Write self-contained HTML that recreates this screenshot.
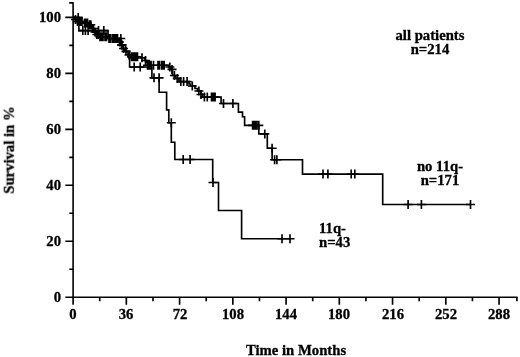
<!DOCTYPE html><html><head><meta charset="utf-8"><style>
html,body{margin:0;padding:0;background:#fff;}
body{width:520px;height:357px;position:relative;overflow:hidden;font-family:"Liberation Serif",serif;font-weight:bold;color:#000;font-size:14.7px;line-height:14.4px;-webkit-text-stroke:0.3px #000;}
.t{position:absolute;white-space:nowrap;}
.yl{text-align:right;width:40px;left:21.3px;}
.xl{text-align:center;width:40px;}
.c{text-align:center;}
.t{will-change:transform;}
</style></head><body>
<svg width="520" height="357" viewBox="0 0 520 357" style="position:absolute;left:0;top:0">
<path d="M73.10 2.2 V297.20 H517.6" fill="none" stroke="#000" stroke-width="1.6"/>
<path d="M65.3 297.20 H73.10 M65.3 241.24 H73.10 M65.3 185.28 H73.10 M65.3 129.32 H73.10 M65.3 73.36 H73.10 M65.3 17.40 H73.10 M69.3 269.22 H73.10 M69.3 213.26 H73.10 M69.3 157.30 H73.10 M69.3 101.34 H73.10 M69.3 45.38 H73.10 M69.2 2.9 H73.10 M73.10 297.20 V304.7 M126.34 297.20 V304.7 M179.59 297.20 V304.7 M232.83 297.20 V304.7 M286.08 297.20 V304.7 M339.32 297.20 V304.7 M392.56 297.20 V304.7 M445.81 297.20 V304.7 M499.05 297.20 V304.7 M99.72 297.20 V301.3 M152.97 297.20 V301.3 M206.21 297.20 V301.3 M259.45 297.20 V301.3 M312.70 297.20 V301.3 M365.94 297.20 V301.3 M419.19 297.20 V301.3 M472.43 297.20 V301.3 M516.9 297.20 V301.3 " fill="none" stroke="#000" stroke-width="1.65"/>
<path d="M73.00 17.40 L74.50 17.40 L74.50 19.50 L76.50 19.50 L76.50 21.50 L83.50 21.50 L83.50 23.00 L88.50 23.00 L88.50 24.70 L91.50 24.70 L91.50 28.50 L94.00 28.50 L94.00 32.00 L96.00 32.00 L96.00 34.50 L99.00 34.50 L99.00 36.80 L108.00 36.80 L108.00 38.50 L119.00 38.50 L119.00 42.00 L120.50 42.00 L120.50 45.00 L122.50 45.00 L122.50 48.50 L124.50 48.50 L124.50 51.30 L128.00 51.30 L128.00 55.00 L130.00 55.00 L130.00 57.70 L144.60 57.70 L144.60 60.50 L146.50 60.50 L146.50 62.50 L148.50 62.50 L148.50 65.20 L169.00 65.20 L169.00 67.40 L171.00 67.40 L171.00 69.40 L172.50 69.40 L172.50 75.50 L175.50 75.50 L175.50 78.40 L179.00 78.40 L179.00 81.60 L189.00 81.60 L189.00 84.00 L190.50 84.00 L190.50 86.00 L195.00 86.00 L195.00 88.50 L197.50 88.50 L197.50 91.00 L201.00 91.00 L201.00 94.00 L202.50 94.00 L202.50 97.10 L221.10 97.10 L221.10 103.50 L238.40 103.50 L238.40 112.10 L242.50 112.10 L242.50 116.70 L244.60 116.70 L244.60 125.30 L258.80 125.30 L258.80 133.90 L267.30 133.90 L267.30 148.20 L272.10 148.20 L272.10 159.70 L302.50 159.70 L302.50 174.10 L382.70 174.10 L382.70 204.50 L470.50 204.50" fill="none" stroke="#000" stroke-width="1.65" stroke-linejoin="miter"/>
<path d="M73.00 17.40 L78.90 17.40 L78.90 30.60 L108.00 30.60 L108.00 38.50 L121.00 38.50 L121.00 45.00 L125.50 45.00 L125.50 51.30 L129.60 51.30 L129.60 67.00 L151.90 67.00 L151.90 77.80 L159.10 77.80 L159.10 92.20 L166.60 92.20 L166.60 109.80 L168.80 109.80 L168.80 122.70 L171.30 122.70 L171.30 142.20 L174.80 142.20 L174.80 159.50 L212.70 159.50 L212.70 182.50 L218.50 182.50 L218.50 210.50 L241.60 210.50 L241.60 238.75 L290.00 238.75" fill="none" stroke="#000" stroke-width="1.65" stroke-linejoin="miter"/>
<path d="M75.50 15.00 V24.00 M71.00 19.50 H80.00 M77.50 17.00 V26.00 M73.00 21.50 H82.00 M79.00 17.00 V26.00 M74.50 21.50 H83.50 M80.50 17.00 V26.00 M76.00 21.50 H85.00 M82.00 17.00 V26.00 M77.50 21.50 H86.50 M84.50 18.50 V27.50 M80.00 23.00 H89.00 M86.00 18.50 V27.50 M81.50 23.00 H90.50 M87.50 18.50 V27.50 M83.00 23.00 H92.00 M89.50 20.20 V29.20 M85.00 24.70 H94.00 M90.80 20.20 V29.20 M86.30 24.70 H95.30 M92.50 24.00 V33.00 M88.00 28.50 H97.00 M93.50 24.00 V33.00 M89.00 28.50 H98.00 M95.00 27.50 V36.50 M90.50 32.00 H99.50 M96.80 30.00 V39.00 M92.30 34.50 H101.30 M98.20 30.00 V39.00 M93.70 34.50 H102.70 M100.00 32.30 V41.30 M95.50 36.80 H104.50 M101.50 32.30 V41.30 M97.00 36.80 H106.00 M103.00 32.30 V41.30 M98.50 36.80 H107.50 M105.00 32.30 V41.30 M100.50 36.80 H109.50 M106.50 32.30 V41.30 M102.00 36.80 H111.00 M109.00 34.00 V43.00 M104.50 38.50 H113.50 M110.50 34.00 V43.00 M106.00 38.50 H115.00 M112.50 34.00 V43.00 M108.00 38.50 H117.00 M113.50 34.00 V43.00 M109.00 38.50 H118.00 M114.50 34.00 V43.00 M110.00 38.50 H119.00 M115.50 34.00 V43.00 M111.00 38.50 H120.00 M116.50 34.00 V43.00 M112.00 38.50 H121.00 M117.50 34.00 V43.00 M113.00 38.50 H122.00 M119.50 37.50 V46.50 M115.00 42.00 H124.00 M121.50 40.50 V49.50 M117.00 45.00 H126.00 M123.50 44.00 V53.00 M119.00 48.50 H128.00 M126.00 46.80 V55.80 M121.50 51.30 H130.50 M129.00 50.50 V59.50 M124.50 55.00 H133.50 M131.50 52.30 V61.30 M127.00 56.80 H136.00 M132.70 52.30 V61.30 M128.20 56.80 H137.20 M133.90 52.30 V61.30 M129.40 56.80 H138.40 M135.10 52.30 V61.30 M130.60 56.80 H139.60 M136.30 52.30 V61.30 M131.80 56.80 H140.80 M137.50 52.30 V61.30 M133.00 56.80 H142.00 M142.00 53.20 V62.20 M137.50 57.70 H146.50 M145.50 56.00 V65.00 M141.00 60.50 H150.00 M147.50 60.70 V69.70 M143.00 65.20 H152.00 M148.70 60.70 V69.70 M144.20 65.20 H153.20 M149.90 60.70 V69.70 M145.40 65.20 H154.40 M151.10 60.70 V69.70 M146.60 65.20 H155.60 M153.50 60.70 V69.70 M149.00 65.20 H158.00 M158.00 60.70 V69.70 M153.50 65.20 H162.50 M159.60 60.70 V69.70 M155.10 65.20 H164.10 M161.80 60.70 V69.70 M157.30 65.20 H166.30 M163.00 60.70 V69.70 M158.50 65.20 H167.50 M164.20 60.70 V69.70 M159.70 65.20 H168.70 M169.80 62.50 V71.50 M165.30 67.00 H174.30 M172.00 64.90 V73.90 M167.50 69.40 H176.50 M174.40 71.00 V80.00 M169.90 75.50 H178.90 M177.30 73.90 V82.90 M172.80 78.40 H181.80 M180.80 77.10 V86.10 M176.30 81.60 H185.30 M183.60 77.10 V86.10 M179.10 81.60 H188.10 M187.10 77.10 V86.10 M182.60 81.60 H191.60 M192.30 81.50 V90.50 M187.80 86.00 H196.80 M198.90 86.50 V95.50 M194.40 91.00 H203.40 M201.00 90.00 V99.00 M196.50 94.50 H205.50 M204.40 92.60 V101.60 M199.90 97.10 H208.90 M207.30 92.60 V101.60 M202.80 97.10 H211.80 M211.50 92.60 V101.60 M207.00 97.10 H216.00 M212.70 92.60 V101.60 M208.20 97.10 H217.20 M213.90 92.60 V101.60 M209.40 97.10 H218.40 M215.10 92.60 V101.60 M210.60 97.10 H219.60 M223.50 99.00 V108.00 M219.00 103.50 H228.00 M232.90 99.00 V108.00 M228.40 103.50 H237.40 M252.60 120.80 V129.80 M248.10 125.30 H257.10 M253.70 120.80 V129.80 M249.20 125.30 H258.20 M254.80 120.80 V129.80 M250.30 125.30 H259.30 M255.90 120.80 V129.80 M251.40 125.30 H260.40 M257.00 120.80 V129.80 M252.50 125.30 H261.50 M258.80 120.80 V129.80 M254.30 125.30 H263.30 M264.80 129.40 V138.40 M260.30 133.90 H269.30 M272.10 143.70 V152.70 M267.60 148.20 H276.60 M274.60 155.20 V164.20 M270.10 159.70 H279.10 M276.90 155.20 V164.20 M272.40 159.70 H281.40 M323.00 169.60 V178.60 M318.50 174.10 H327.50 M327.90 169.60 V178.60 M323.40 174.10 H332.40 M351.20 169.60 V178.60 M346.70 174.10 H355.70 M354.80 169.60 V178.60 M350.30 174.10 H359.30 M408.10 200.00 V209.00 M403.60 204.50 H412.60 M421.40 200.00 V209.00 M416.90 204.50 H425.90 M470.50 200.00 V209.00 M466.00 204.50 H475.00 " fill="none" stroke="#000" stroke-width="1.65"/>
<path d="M78.20 12.90 V21.90 M73.70 17.40 H82.70 M82.80 26.10 V35.10 M78.30 30.60 H87.30 M85.40 26.10 V35.10 M80.90 30.60 H89.90 M88.10 26.10 V35.10 M83.60 30.60 H92.60 M98.50 26.10 V35.10 M94.00 30.60 H103.00 M103.80 26.10 V35.10 M99.30 30.60 H108.30 M120.80 34.00 V43.00 M116.30 38.50 H125.30 M122.00 40.50 V49.50 M117.50 45.00 H126.50 M134.20 62.50 V71.50 M129.70 67.00 H138.70 M140.20 62.50 V71.50 M135.70 67.00 H144.70 M154.00 73.30 V82.30 M149.50 77.80 H158.50 M159.10 73.30 V82.30 M154.60 77.80 H163.60 M171.30 118.20 V127.20 M166.80 122.70 H175.80 M183.20 155.00 V164.00 M178.70 159.50 H187.70 M190.10 155.00 V164.00 M185.60 159.50 H194.60 M213.00 178.00 V187.00 M208.50 182.50 H217.50 M282.00 234.25 V243.25 M277.50 238.75 H286.50 M290.00 234.25 V243.25 M285.50 238.75 H294.50 " fill="none" stroke="#000" stroke-width="1.65"/>
</svg>
<div class="t yl" style="top:289.6px">0</div>
<div class="t yl" style="top:233.6px">20</div>
<div class="t yl" style="top:177.7px">40</div>
<div class="t yl" style="top:121.7px">60</div>
<div class="t yl" style="top:65.8px">80</div>
<div class="t yl" style="top:9.8px">100</div>
<div class="t xl" style="left:53.1px;top:306.8px">0</div>
<div class="t xl" style="left:106.3px;top:306.8px">36</div>
<div class="t xl" style="left:159.6px;top:306.8px">72</div>
<div class="t xl" style="left:212.8px;top:306.8px">108</div>
<div class="t xl" style="left:266.1px;top:306.8px">144</div>
<div class="t xl" style="left:319.3px;top:306.8px">180</div>
<div class="t xl" style="left:372.6px;top:306.8px">216</div>
<div class="t xl" style="left:425.8px;top:306.8px">252</div>
<div class="t xl" style="left:479.1px;top:306.8px">288</div>
<div class="t c" style="left:380px;width:100px;top:28px">all patients<br>n=214</div>
<div class="t c" style="left:390px;width:100px;top:159px">no 11q-<br>n=171</div>
<div class="t" style="left:319px;top:221px">11q-<br>n=43</div>
<div class="t" style="left:245.6px;top:343px">Time in Months</div>
<div class="t" style="left:9.2px;top:149.5px;transform:translate(-50%,-50%) rotate(-90deg);transform-origin:center">Survival in %</div>
</body></html>
